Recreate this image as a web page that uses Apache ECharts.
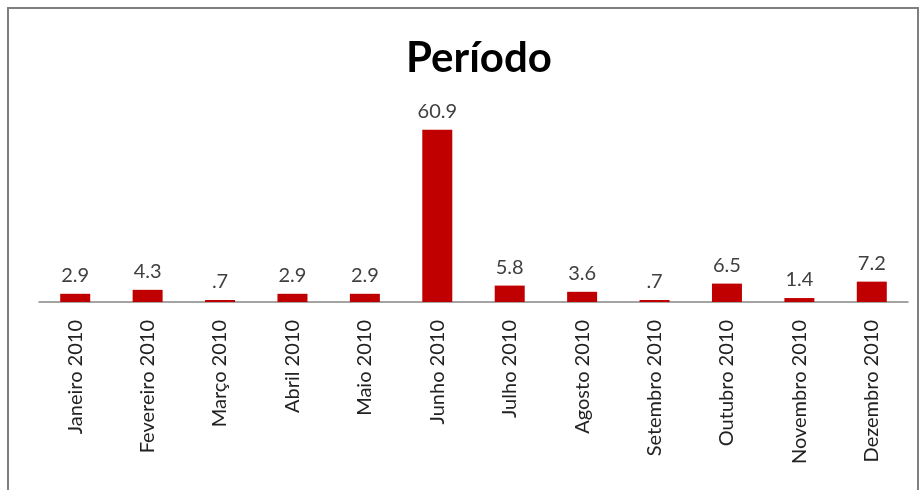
<!DOCTYPE html>
<html><head><meta charset="utf-8">
<script src="https://cdn.jsdelivr.net/npm/echarts@6/dist/echarts.min.js"></script>
<style>html,body{margin:0;padding:0;background:#fff}#c{width:924px;height:490px}</style>
</head><body><div id="c"></div>
<script>
const categories = ["Janeiro 2010","Fevereiro 2010","Março 2010","Abril 2010","Maio 2010","Junho 2010","Julho 2010","Agosto 2010","Setembro 2010","Outubro 2010","Novembro 2010","Dezembro 2010"];
const values = [2.9,4.3,0.7,2.9,2.9,60.9,5.8,3.6,0.7,6.5,1.4,7.2];
const chart = echarts.init(document.getElementById('c'));
chart.setOption({
  animation:false,
  backgroundColor:'#fff',
  graphic:[{type:'rect',shape:{x:8,y:8,width:910,height:500},style:{fill:'none',stroke:'#7f7f7f',lineWidth:2},silent:true}],
  title:{text:'Período',left:474,top:32,textAlign:'center',textStyle:{fontFamily:'Lato',fontWeight:'bold',fontSize:42,color:'#000'}},
  grid:{left:39,right:16,top:104,bottom:188},
  xAxis:{type:'category',data:categories,axisTick:{show:false},
    axisLine:{lineStyle:{color:'#868686',width:1.5}},
    axisLabel:{rotate:90,margin:18,fontFamily:'Lato',fontSize:20,color:'#222'}},
  yAxis:{type:'value',min:0,max:70,show:false,splitLine:{show:false}},
  series:[{type:'bar',data:values,barWidth:30,itemStyle:{color:'#C00000'},
    label:{show:true,position:'top',distance:8,fontFamily:'Lato',fontSize:20,color:'#404040',
      formatter:p=>String(p.value).replace(/^0\./,'.')}}]
});
</script></body></html>
